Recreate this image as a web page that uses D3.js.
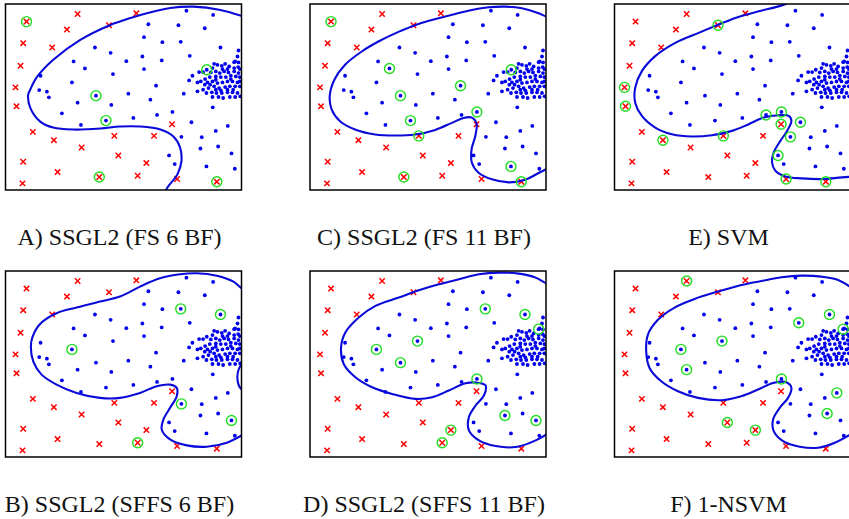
<!DOCTYPE html>
<html>
<head>
<meta charset="utf-8">
<script src="https://cdn.jsdelivr.net/npm/d3@7"></script>
<style>
  body { margin: 0; background: #fff; }
</style>
</head>
<body>
<div id="chart"></div>
<script>
// feature space (same data set in every panel)
const negPoints = [[78,65],[231,42],[199,89],[325,76],[407,40],[68,130],[155,143],[60,198],[45,263],[48,320],
  [97,397],[160,422],[243,444],[341,409],[460,409],[514,374],[353,468],[68,487],[171,518],[296,533],
  [411,529],[437,491],[529,539],[648,547],[66,552]];

const posPoints = [[557,32],[637,45],[443,73],[533,76],[612,85],[430,112],[485,127],[540,126],[659,143],[283,143],
  [330,159],[567,168],[219,185],[377,184],[425,170],[483,182],[253,206],[430,208],[337,223],[120,228],
  [214,248],[466,258],[116,271],[139,276],[145,293],[286,288],[383,282],[549,282],[231,309],[449,300],
  [332,316],[636,323],[184,341],[515,337],[469,346],[398,355],[316,363],[241,376],[572,368],[681,379],
  [645,394],[542,412],[603,413],[599,447],[652,441],[692,462],[505,468],[522,494],[617,501],[702,508]];

const clusterPoints = [[713,152],[710,170],[703,185],[713,188],[700,187],[712,202],[673,192],[685,200],[663,198],[650,195],
  [640,192],[635,205],[618,210],[607,217],[595,217],[575,228],[565,242],[630,218],[645,215],[657,220],
  [670,215],[683,218],[700,215],[713,220],[690,228],[705,230],[717,232],[675,232],[660,232],[645,230],
  [627,232],[613,238],[600,245],[590,248],[620,248],[635,245],[650,250],[665,248],[680,245],[695,245],
  [710,248],[717,260],[703,260],[687,260],[673,262],[655,265],[640,260],[623,265],[607,270],[590,275],
  [617,280],[633,278],[647,280],[663,280],[680,278],[695,278],[710,280],[718,290],[703,292],[687,292],
  [667,295],[653,292],[635,292],[717,245],[717,208],[700,205],[680,208],[665,208],[690,238],[645,240],
  [628,255],[612,255],[697,270],[680,270],[660,272],[645,270]];

// decision boundaries
const boundaryA = [[490,600],[497,570],[530,525],[542,486],[538,444],[518,411],[479,390],[419,381],[358,381],[299,387],
  [218,390],[158,384],[119,366],[89,324],[83,285],[89,270],[110,231],[158,180],[239,120],[329,75],
  [360,64],[419,45],[509,24],[578,20],[659,30],[722,48],[760,62]];
const boundaryC = [[760,65],[722,50],[700,40],[650,25],[600,20],[550,22],[500,30],[450,42],[400,55],[340,72],
  [280,96],[220,125],[170,155],[120,195],[88,240],[74,290],[80,330],[105,365],[150,390],[210,405],
  [270,408],[330,405],[390,391],[440,370],[475,355],[500,354],[514,372],[510,410],[499,450],[500,490],
  [520,520],[560,540],[610,549],[660,541],[700,521],[760,490]];
const boundaryE = [[570,-10],[522,14],[447,34],[377,54],[327,74],[267,99],[197,129],[137,169],[97,214],[77,264],
  [77,309],[97,349],[137,384],[187,404],[247,411],[307,407],[367,394],[417,374],[462,354],[507,347],
  [537,349],[545,364],[532,394],[512,424],[492,459],[487,489],[497,514],[527,531],[577,537],[637,539],
  [697,534],[760,530]];
const boundaryB = [[760,85],[725,66],[698,44],[648,26],[588,19],[538,22],[478,34],[418,59],[358,89],[298,104],
  [228,122],[168,139],[120,170],[96,210],[91,239],[98,284],[123,324],[168,354],[228,379],[298,394],
  [358,394],[418,379],[468,359],[508,354],[528,364],[528,389],[508,424],[488,459],[483,489],[508,519],
  [558,537],[618,541],[678,529],[760,485]];
const boundaryB2 = [[740,280],[725,290],[713,310],[710,339],[718,364],[740,378]];
const boundaryD = [[760,65],[723,50],[691,32],[641,20],[581,17],[521,22],[461,37],[401,52],[341,70],[281,92],
  [211,117],[161,152],[121,197],[108,242],[116,292],[151,332],[201,362],[261,382],[331,397],[381,392],
  [431,372],[481,350],[521,349],[541,357],[536,387],[511,417],[491,452],[491,492],[521,522],[571,539],
  [631,542],[691,522],[760,480]];
const boundaryF = [[760,85],[728,64],[685,39],[635,29],[575,26],[515,31],[455,42],[395,54],[325,74],[255,96],
  [195,122],[145,159],[115,204],[110,254],[120,304],[155,344],[205,374],[265,394],[335,401],[395,389],
  [445,369],[490,349],[530,347],[545,364],[535,394],[510,424],[490,459],[492,494],[520,524],[570,541],
  [625,544],[675,529],[760,480]];

// support vectors per model
const svA = [[78,65],[296,533],[648,547],[286,288],[316,363],[618,210]];
const svC = [[78,65],[341,409],[296,533],[648,547],[253,206],[466,258],[286,288],[316,363],[515,337],[617,501],[618,210]];
const svE = [[325,76],[45,263],[48,320],[160,422],[341,409],[469,346],[515,337],[514,374],[572,368],[542,412],[505,468],[529,539],[648,547]];
const svB = [[540,126],[659,143],[214,248],[542,412],[692,462],[411,529]];
const svD = [[540,126],[659,143],[700,187],[337,223],[214,248],[286,288],[515,337],[599,447],[692,462],[437,491],[411,529]];
const svF = [[231,42],[659,143],[567,168],[700,187],[337,223],[214,248],[231,309],[515,337],[681,379],[652,441],[353,468],[437,491]];

const labels = ["A) SSGL2 (FS 6 BF)", "C) SSGL2 (FS 11 BF)", "E) SVM",
                "B) SSGL2 (SFFS 6 BF)", "D) SSGL2 (SFFS 11 BF)", "F) 1-NSVM"];

const panels = [
  {label: labels[0], col: 0, row: 0, curves: [boundaryA], sv: svA},
  {label: labels[1], col: 1, row: 0, curves: [boundaryC], sv: svC},
  {label: labels[2], col: 2, row: 0, curves: [boundaryE], sv: svE},
  {label: labels[3], col: 0, row: 1, curves: [boundaryB, boundaryB2], sv: svB},
  {label: labels[4], col: 1, row: 1, curves: [boundaryD], sv: svD},
  {label: labels[5], col: 2, row: 1, curves: [boundaryF], sv: svF}
];

const svgWidth = 849, svgHeight = 519;
const colLeft = [5.5, 310, 614.5], rowTop = [4, 271];
const pw = 236, ph = 186;
const labelY = [245, 512];

const svg = d3.select('#chart').append('svg')
    .attr('width', svgWidth)
    .attr('height', svgHeight);

panels.forEach((p, i) => {
  const x0 = colLeft[p.col], y0 = rowTop[p.row];
  const x = d3.scaleLinear().domain([15, 722]).range([x0, x0 + pw]);
  const y = d3.scaleLinear().domain([12, 572]).range([y0, y0 + ph]);

  svg.append('clipPath').attr('id', 'clip' + i)
    .append('rect').attr('x', x0).attr('y', y0).attr('width', pw).attr('height', ph);

  const g = svg.append('g').attr('clip-path', `url(#clip${i})`);

  const line = d3.line()
      .x(d => x(d[0]))
      .y(d => y(d[1]))
      .curve(d3.curveCatmullRom.alpha(0.5));

  // red crosses
  const s = 2.7;
  g.selectAll('.neg').data(negPoints).enter().append('path')
    .attr('d', d => `M${x(d[0]) - s},${y(d[1]) - s}L${x(d[0]) + s},${y(d[1]) + s}M${x(d[0]) - s},${y(d[1]) + s}L${x(d[0]) + s},${y(d[1]) - s}`)
    .attr('stroke', '#ff0000')
    .attr('stroke-width', 1.5)
    .attr('fill', 'none');

  // blue dots
  g.selectAll('.pos').data(posPoints.concat(clusterPoints)).enter().append('circle')
    .attr('cx', d => x(d[0]))
    .attr('cy', d => y(d[1]))
    .attr('r', 1.9)
    .attr('fill', '#0000ee');

  p.curves.forEach(c => {
    g.append('path')
      .datum(c)
      .attr('d', line)
      .attr('fill', 'none')
      .attr('stroke', '#0a0ad8')
      .attr('stroke-width', 2.1);
  });

  // support vectors
  g.selectAll('.sv').data(p.sv).enter().append('circle')
    .attr('cx', d => x(d[0]))
    .attr('cy', d => y(d[1]))
    .attr('r', 5)
    .attr('fill', 'none')
    .attr('stroke', '#22dd22')
    .attr('stroke-width', 1.4);

  svg.append('rect')
    .attr('x', x0).attr('y', y0)
    .attr('width', pw).attr('height', ph)
    .attr('fill', 'none')
    .attr('stroke', '#000')
    .attr('stroke-width', 1.5);

  svg.append('text')
    .attr('x', x0 + pw / 2 - 4)
    .attr('y', labelY[p.row])
    .attr('text-anchor', 'middle')
    .attr('font-family', "'Liberation Serif', 'DejaVu Serif', serif")
    .attr('font-size', 24)
    .attr('fill', '#111')
    .text(p.label);
});
</script>
</body>
</html>
